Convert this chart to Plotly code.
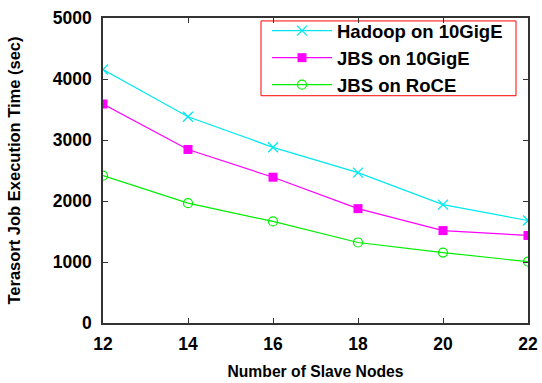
import plotly.graph_objects as go

nodes = [12, 14, 16, 18, 20, 22]
hadoop_10gige = [4155, 3380, 2880, 2465, 1940, 1680]
jbs_10gige = [3590, 2845, 2390, 1875, 1515, 1435]
jbs_roce = [2415, 1965, 1665, 1320, 1155, 1005]

x_ticks = [12, 14, 16, 18, 20, 22]
y_ticks = [0, 1000, 2000, 3000, 4000, 5000]

fig = go.Figure()
fig.add_trace(go.Scatter(x=nodes, y=hadoop_10gige, name="Hadoop on 10GigE", mode="lines+markers",
                         line=dict(color="#00e8f0", width=1.2),
                         marker=dict(symbol="x-thin", size=10, line=dict(color="#00e8f0", width=1.3))))
fig.add_trace(go.Scatter(x=nodes, y=jbs_10gige, name="JBS on 10GigE", mode="lines+markers",
                         line=dict(color="#ff00ff", width=1.2),
                         marker=dict(symbol="square", size=9, color="#ff00ff")))
fig.add_trace(go.Scatter(x=nodes, y=jbs_roce, name="JBS on RoCE", mode="lines+markers",
                         line=dict(color="#00ee00", width=1.2),
                         marker=dict(symbol="circle-open", size=9, color="#00ee00", line=dict(width=1.2))))

axis_common = dict(showgrid=False, zeroline=False, showline=True, linecolor="#333333", linewidth=1.5,
                   mirror="ticks", ticks="inside", ticklen=5, tickcolor="#333333", automargin=False,
                   tickfont=dict(family="Liberation Sans", size=17.5, color="black"))

# legend frame (paper coordinates), drawn as a shape so its padding matches the reference
plot_l, plot_r, plot_t, plot_b = 103, 528, 13, 323
def px_x(p):
    return (p - plot_l) / (plot_r - plot_l)
def px_y(p):
    return (plot_b - p) / (plot_b - plot_t)

fig.update_layout(
    width=542, height=383,
    margin=dict(l=plot_l, r=542 - plot_r, t=plot_t, b=383 - plot_b),
    plot_bgcolor="white", paper_bgcolor="white",
    font=dict(family="Liberation Sans", color="black"),
    showlegend=True,
    legend=dict(x=px_x(267), y=px_y(7), xanchor="left", yanchor="top",
                borderwidth=0, bgcolor="rgba(0,0,0,0)",
                font=dict(family="Liberation Sans", size=18.5, color="black"),
                itemwidth=60, tracegroupgap=0),
    shapes=[dict(type="rect", xref="paper", yref="paper",
                 x0=px_x(261), x1=px_x(516), y0=px_y(92), y1=px_y(16),
                 line=dict(color="red", width=1), fillcolor="white", layer="below")],
    xaxis=dict(range=[12, 22], tickvals=x_ticks, ticklabelstandoff=4,
               title=dict(text="<b>Number of Slave Nodes</b>", font=dict(size=15.7), standoff=13),
               **axis_common),
    yaxis=dict(range=[0, 5000], tickvals=y_ticks, ticklabelstandoff=6,
               title=dict(text="<b>Terasort Job Execution Time (sec)</b>", font=dict(size=16.5), standoff=28),
               **axis_common),
)
fig.update_xaxes(ticktext=[f"<b>{v}</b>" for v in x_ticks])
fig.update_yaxes(ticktext=[f"<b>{v}</b>" for v in y_ticks])
fig.for_each_trace(lambda t: t.update(name=f"<b>{t.name}</b>"))

fig.write_html("out.html")
